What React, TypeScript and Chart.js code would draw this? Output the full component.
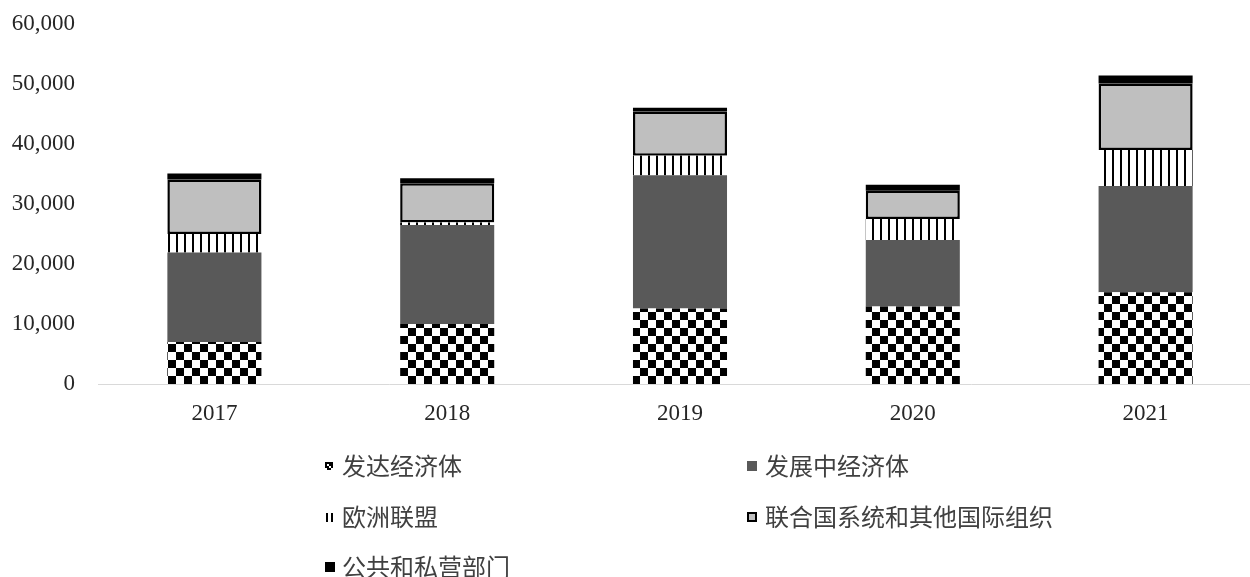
import React, { useEffect, useRef } from 'react';
import { Chart, registerables } from 'chart.js';

Chart.register(...registerables);

const categories = ['2017', '2018', '2019', '2020', '2021'];
const developed = [7000, 10000, 12600, 12900, 15300];
const developing = [14900, 16500, 22200, 11100, 17700];
const europeanUnion = [3100, 400, 3250, 3500, 6000];
const unSystem = [9100, 6550, 7350, 4700, 11100];
const publicPrivate = [1000, 850, 650, 1000, 1300];
const seriesNames = ['发达经济体', '发展中经济体', '欧洲联盟', '联合国系统和其他国际组织', '公共和私营部门'];
const yMin = 0;
const yMax = 60000;
const yStep = 10000;

function makeChecker(cell: number) {
  const c = document.createElement('canvas');
  c.width = cell * 2;
  c.height = cell * 2;
  const g = c.getContext('2d')!;
  g.fillStyle = '#ffffff';
  g.fillRect(0, 0, cell * 2, cell * 2);
  g.fillStyle = '#000000';
  g.fillRect(0, 0, cell, cell);
  g.fillRect(cell, cell, cell, cell);
  return g.createPattern(c, 'repeat')!;
}

function makeStripes(period: number, line: number) {
  const c = document.createElement('canvas');
  c.width = period;
  c.height = 4;
  const g = c.getContext('2d')!;
  g.fillStyle = '#ffffff';
  g.fillRect(0, 0, period, 4);
  g.fillStyle = '#000000';
  g.fillRect(0, 0, line, 4);
  return g.createPattern(c, 'repeat')!;
}

const legendPlugin = {
  id: 'gridLegend',
  afterDraw(chart: any) {
    const ctx: CanvasRenderingContext2D = chart.ctx;
    const cols = [325, 747];
    const rows = [466, 517, 567];
    ctx.save();
    seriesNames.forEach((name, i) => {
      const x = cols[i % 2];
      const y = rows[Math.floor(i / 2)];
      if (i === 0) {
        ctx.fillStyle = '#000';
        ctx.fillRect(x, y - 4, 8, 8);
        ctx.fillStyle = '#fff';
        ctx.fillRect(x + 2, y - 2, 2, 2);
        ctx.fillRect(x + 4, y + 0, 2, 2);
        ctx.fillRect(x, y + 2, 2, 2);
        ctx.fillRect(x + 6, y + 2, 2, 2);
      } else if (i === 1) {
        ctx.fillStyle = '#595959';
        ctx.fillRect(x, y - 5, 10, 10);
      } else if (i === 2) {
        ctx.fillStyle = '#000';
        ctx.fillRect(x + 1, y - 4, 2, 9);
        ctx.fillRect(x + 6, y - 4, 2, 9);
      } else if (i === 3) {
        ctx.fillStyle = '#bfbfbf';
        ctx.fillRect(x, y - 5, 10, 10);
        ctx.strokeStyle = '#000';
        ctx.lineWidth = 2;
        ctx.strokeRect(x + 1, y - 4, 8, 8);
      } else {
        ctx.fillStyle = '#000';
        ctx.fillRect(x, y - 5, 10, 10);
      }
      ctx.fillStyle = '#404040';
      ctx.font = '24px "Noto Sans CJK SC", sans-serif';
      ctx.textBaseline = 'middle';
      ctx.textAlign = 'left';
      ctx.fillText(name, x + (i % 2 === 0 ? 17 : 18), y);
    });
    ctx.restore();
  },
};

export default function App() {
  const ref = useRef<HTMLCanvasElement>(null);
  useEffect(() => {
    document.body.style.margin = '0';
    const checker = makeChecker(8);
    const stripes = makeStripes(8, 2);
    const barPct = 0.404;
    const chart = new Chart(ref.current!, {
      type: 'bar',
      data: {
        labels: categories,
        datasets: [
          { label: seriesNames[0], data: developed, backgroundColor: checker, borderWidth: 0 },
          { label: seriesNames[1], data: developing, backgroundColor: '#595959', borderWidth: 0 },
          { label: seriesNames[2], data: europeanUnion, backgroundColor: stripes, borderWidth: 0 },
          { label: seriesNames[3], data: unSystem, backgroundColor: '#bfbfbf', borderColor: '#000', borderWidth: 2.5, borderSkipped: false },
          { label: seriesNames[4], data: publicPrivate, backgroundColor: '#000', borderWidth: 0 },
        ].map((d) => ({ ...d, barPercentage: barPct, categoryPercentage: 1 })) as any,
      },
      options: {
        responsive: false,
        animation: false,
        layout: { padding: { top: 24, bottom: 143, left: 0, right: 0 } },
        plugins: { legend: { display: false }, tooltip: { enabled: false } },
        scales: {
          x: {
            stacked: true,
            grid: { display: false, drawTicks: false },
            border: { display: true, color: '#d9d9d9', width: 1 },
            ticks: { color: '#262626', font: { family: '"Liberation Serif", serif', size: 23 }, padding: 16, maxRotation: 0 },
            afterFit: (s: any) => { s.height = 50; },
          },
          y: {
            stacked: true,
            min: yMin,
            max: yMax,
            grid: { display: false, drawTicks: false },
            border: { display: false },
            ticks: {
              stepSize: yStep,
              color: '#262626',
              font: { family: '"Liberation Serif", serif', size: 23 },
              padding: 23,
              callback: (v: any) => Number(v).toLocaleString('en-US'),
            },
            afterFit: (s: any) => { s.width = 98; s.paddingTop = 0; s.paddingBottom = 0; },
          },
        },
      },
      plugins: [legendPlugin],
    });
    return () => chart.destroy();
  }, []);
  return (
    <div style={{ width: 1250, height: 577, overflow: 'hidden' }}>
      <canvas ref={ref} width={1262} height={577} style={{ display: 'block' }} />
    </div>
  );
}
